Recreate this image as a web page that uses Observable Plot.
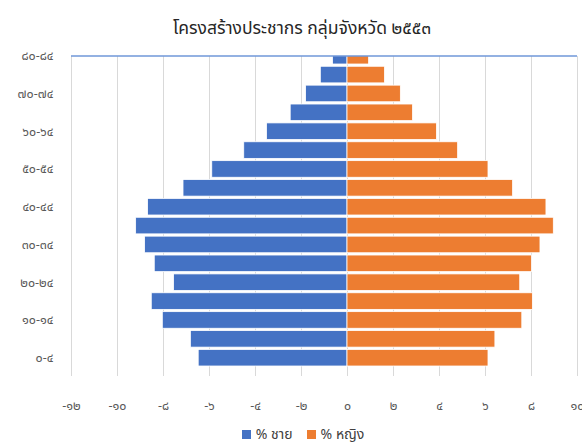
<!DOCTYPE html>
<html>
<head>
<meta charset="utf-8">
<script src="https://cdn.jsdelivr.net/npm/d3@7"></script>
<script src="https://cdn.jsdelivr.net/npm/@observablehq/plot@0.6"></script>
<style>
  html, body { margin: 0; padding: 0; background: #fff; }
  body { width: 582px; height: 444px; overflow: hidden; font-family: "Noto Sans Thai", "Leelawadee UI", Tahoma, "Noto Sans", sans-serif; }
  #title { height: 44px; box-sizing: border-box; padding-top: 18px; text-align: center; font-size: 17.5px; line-height: 22px; color: #262626; padding-left: 22px; }
  #legend { height: 20px; display: flex; justify-content: center; align-items: center; gap: 14px; font-size: 14px; line-height: 18px; color: #404040; padding-left: 24px; padding-top: 1px; box-sizing: border-box; }
  #legend span.sw { display: inline-block; width: 9px; height: 9px; margin-right: 5px; }
</style>
</head>
<body>
<div id="title">โครงสร้างประชากร กลุ่มจังหวัด ๒๕๕๓</div>
<div id="chart"></div>
<div id="legend"></div>
<script>
// Age groups (bottom to top), Thai digits
const ages = ["๐-๔","๕-๙","๑๐-๑๔","๑๕-๑๙","๒๐-๒๔","๒๕-๒๙","๓๐-๓๔","๓๕-๓๙","๔๐-๔๔","๔๕-๔๙","๕๐-๕๔","๕๕-๕๙","๖๐-๖๔","๖๕-๖๙","๗๐-๗๔","๗๕-๗๙","๘๐-๘๔"];
// % male and % female per age group
const male   = [6.47, 6.81, 8.03, 8.51, 7.54, 8.38, 8.80, 9.19, 8.67, 7.13, 5.88, 4.49, 3.50, 2.47, 1.80, 1.16, 0.63];
const female = [6.13, 6.43, 7.60, 8.06, 7.51, 8.02, 8.39, 8.97, 8.65, 7.20, 6.13, 4.81, 3.89, 2.85, 2.32, 1.63, 0.94];
// Axis ticks
const xTicks = [-12, -10, -8, -6, -4, -2, 0, 2, 4, 6, 8, 10];
const xTickLabels = ["-๑๒","-๑๐","-๘","-๖","-๔","-๒","๐","๒","๔","๖","๘","๑๐"];
const yTickLabels = ["๐-๔","๑๐-๑๔","๒๐-๒๔","๓๐-๓๔","๔๐-๔๔","๕๐-๕๔","๖๐-๖๔","๗๐-๗๔","๘๐-๘๔"];
const seriesNames = ["% ชาย", "% หญิง"];
const seriesColors = ["#4472C4", "#ED7D31"];

const rows = ages.map((a, i) => ({age: a, male: male[i], female: female[i]}));

const topLine = (index, scales, values, dimensions) => {
  const svgNS = "http://www.w3.org/2000/svg";
  const l = document.createElementNS(svgNS, "line");
  l.setAttribute("x1", dimensions.marginLeft);
  l.setAttribute("x2", dimensions.width - dimensions.marginRight);
  l.setAttribute("y1", dimensions.marginTop);
  l.setAttribute("y2", dimensions.marginTop);
  l.setAttribute("stroke", "#6f97d8");
  l.setAttribute("stroke-width", 1.6);
  return l;
};

const step = 18.875;
const firstCenter = 11.7;
const chart = Plot.plot({
  width: 582,
  height: 380,
  marginLeft: 71,
  marginRight: 5,
  marginTop: 12,
  marginBottom: 48,
  style: {fontFamily: '"Noto Sans Thai", "Leelawadee UI", Tahoma, "Noto Sans", sans-serif', fontSize: "12.5px", color: "#595959", background: "#fff"},
  x: {
    domain: [-12, 10],
    ticks: xTicks,
    tickFormat: d => xTickLabels[xTicks.indexOf(d)],
    grid: true,
    tickSize: 0,
    tickPadding: 25,
    label: null
  },
  y: {
    domain: ages.slice().reverse(),
    range: [firstCenter - step / 2, firstCenter - step / 2 + step * ages.length],
    round: false,
    paddingInner: 0.12,
    paddingOuter: 0.06,
    ticks: yTickLabels,
    tickSize: 0,
    tickPadding: 18,
    label: null
  },
  marks: [
    Plot.gridX(xTicks, {stroke: "#d9d9d9", strokeOpacity: 1, strokeWidth: 1}),
    Plot.barX(rows, {x: d => -d.male, y: "age", fill: seriesColors[0], stroke: "#ffffff", strokeWidth: 0.8, clip: true}),
    Plot.barX(rows, {x: "female", y: "age", fill: seriesColors[1], stroke: "#ffffff", strokeWidth: 0.8, clip: true}),
    topLine
  ]
});
document.getElementById("chart").appendChild(chart);

const legend = document.getElementById("legend");
seriesNames.forEach((n, i) => {
  const item = document.createElement("span");
  const sw = document.createElement("span");
  sw.className = "sw";
  sw.style.background = seriesColors[i];
  item.appendChild(sw);
  item.appendChild(document.createTextNode(n));
  legend.appendChild(item);
});
</script>
</body>
</html>
